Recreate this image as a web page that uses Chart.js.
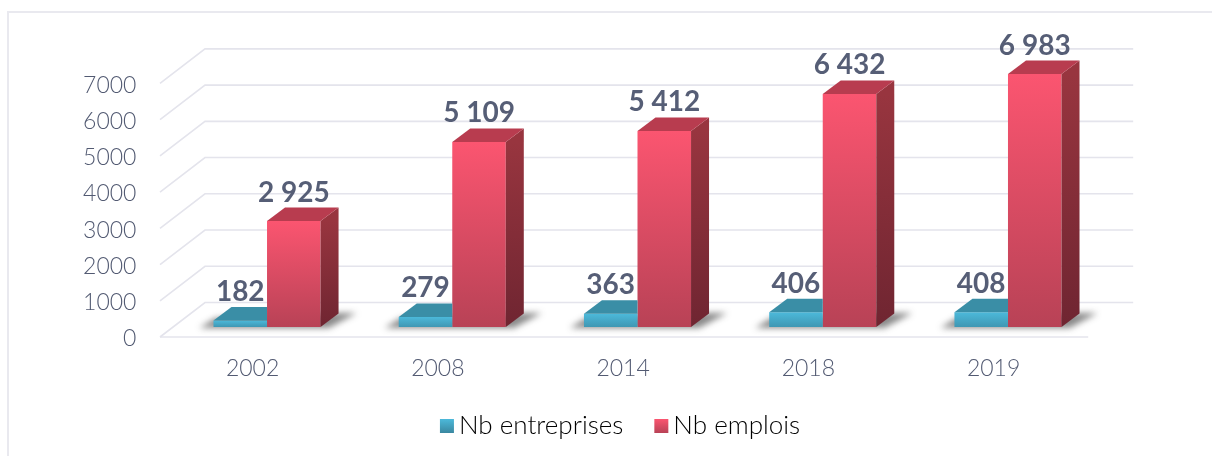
<!DOCTYPE html>
<html>
<head>
<meta charset="utf-8">
<style>
    html, body { margin: 0; padding: 0; background: #fff; overflow: hidden; }
    #wrap { position: relative; width: 1212px; height: 456px; }
    #frame { position: absolute; left: 7px; top: 11px; right: 0; bottom: 0; border-top: 2px solid #e9e9ef; border-left: 2px solid #e9e9ef; }
    #chart { position: absolute; left: 0; top: 0; }
</style>
</head>
<body>
<div id="wrap">
    <div id="frame"></div>
    <canvas id="chart" width="1212" height="456"></canvas>
</div>
<script src="https://cdn.jsdelivr.net/npm/chart.js@4"></script>
<script>
const years = ['2002', '2008', '2014', '2018', '2019'];
const nbEntreprises = [182, 279, 363, 406, 408];
const nbEmplois = [2925, 5109, 5412, 6432, 6983];
const yTicks = [0, 1000, 2000, 3000, 4000, 5000, 6000, 7000];
const yMax = 7700;

const textColor = '#525a72';
const labelColor = '#565e76';
const gridColor = '#e4e4ec';
const fontName = 'Lato';

// fake 3D: the wall sits behind the bars, the floor line in front of them
const frontDx = -14.4, frontDy = 10;
const wallDx = 45, wallDy = -34.5;
const barDx = 18, barDy = -13.5;

function faceGradient(chart, value, top, bottom) {
    const y = chart.scales.y;
    const g = chart.ctx.createLinearGradient(0, y.getPixelForValue(value), 0, y.getPixelForValue(0));
    g.addColorStop(0, top);
    g.addColorStop(1, bottom);
    return g;
}

function polygon(ctx, pts, fill) {
    ctx.beginPath();
    pts.forEach((p, i) => i ? ctx.lineTo(p[0], p[1]) : ctx.moveTo(p[0], p[1]));
    ctx.closePath();
    ctx.fillStyle = fill;
    ctx.fill();
}

const chart3d = {
    id: 'chart3d',
    beforeDatasetsDraw(chart) {
        const ctx = chart.ctx, area = chart.chartArea, y = chart.scales.y;
        const x0 = area.left + frontDx;
        const floorRight = area.right + frontDx + 2;

        ctx.save();
        ctx.strokeStyle = gridColor;
        ctx.lineWidth = 1.6;
        y.ticks.forEach(t => {
            const py = y.getPixelForValue(t.value) + frontDy;
            ctx.beginPath();
            ctx.moveTo(x0, py);
            ctx.lineTo(x0 + wallDx, py + wallDy);
            ctx.lineTo(floorRight + wallDx, py + wallDy);
            ctx.stroke();
        });
        const floorY = y.getPixelForValue(0) + frontDy;
        ctx.beginPath();
        ctx.moveTo(x0, floorY);
        ctx.lineTo(floorRight, floorY);
        ctx.stroke();

        // soft shadow on the floor behind each pair of bars
        const blue = chart.getDatasetMeta(0).data;
        const red = chart.getDatasetMeta(1).data;
        ctx.filter = 'blur(3px)';
        blue.forEach((b, i) => {
            const left = b.x - b.width / 2;
            const right = red[i].x + red[i].width / 2;
            const base = b.base;
            polygon(ctx, [
                [left - 14, base + 1],
                [left + 2, base - 9],
                [right + 18, base - 14],
                [right + 36, base - 14],
                [right + 8, base + 1]
            ], 'rgba(40,40,40,0.55)');
        });
        ctx.restore();
    },
    afterDatasetDraw(chart, args) {
        const ctx = chart.ctx;
        const values = chart.data.datasets[args.index].data;
        args.meta.data.forEach((bar, i) => {
            const left = bar.x - bar.width / 2;
            const right = bar.x + bar.width / 2;
            if (args.index === 0) {
                // red bar stands in front of the blue one, only the top shows
                polygon(ctx, [
                    [left, bar.y], [left + barDx, bar.y + barDy],
                    [right, bar.y + barDy], [right, bar.y]
                ], '#3a8ea6');
            } else {
                polygon(ctx, [
                    [right, bar.y], [right + barDx, bar.y + barDy],
                    [right + barDx, bar.base + barDy], [right, bar.base]
                ], faceGradient(chart, values[i], '#98353f', '#6f2531'));
                polygon(ctx, [
                    [left, bar.y], [left + barDx, bar.y + barDy],
                    [right + barDx, bar.y + barDy], [right, bar.y]
                ], '#b83c4f');
            }
        });
    },
    afterDatasetsDraw(chart) {
        const ctx = chart.ctx;
        ctx.save();
        ctx.font = 'bold 28px ' + fontName;
        ctx.fillStyle = labelColor;
        ctx.textAlign = 'center';
        ctx.textBaseline = 'middle';
        chart.data.datasets.forEach((ds, d) => {
            chart.getDatasetMeta(d).data.forEach((bar, i) => {
                const text = String(ds.data[i]).replace(/\B(?=(\d{3})+$)/g, ' ');
                ctx.fillText(text, bar.x, bar.y - 28.5);
            });
        });
        ctx.restore();
    },
    afterDraw(chart) {
        // legend boxes: the built-in gap to the text is too wide, so the library box stays hidden
        const ctx = chart.ctx;
        const boxes = chart.legend.legendHitBoxes;
        const colors = [['#4cb9da', '#3a87a0'], ['#fb5570', '#b84256']];
        boxes.forEach((hit, i) => {
            const top = hit.top + hit.height / 2 - 7;
            const g = ctx.createLinearGradient(0, top, 0, top + 14);
            g.addColorStop(0, colors[i][0]);
            g.addColorStop(1, colors[i][1]);
            ctx.fillStyle = g;
            ctx.fillRect(hit.left, top, 14, 14);
        });
    }
};

new Chart(document.getElementById('chart'), {
    type: 'bar',
    data: {
        labels: years,
        datasets: [
            {
                label: 'Nb entreprises',
                data: nbEntreprises,
                backgroundColor: ctx => faceGradient(ctx.chart, ctx.raw || 0, '#4cb9da', '#3f97b3')
            },
            {
                label: 'Nb emplois',
                data: nbEmplois,
                backgroundColor: ctx => faceGradient(ctx.chart, ctx.raw || 0, '#fb5570', '#b84256')
            }
        ]
    },
    options: {
        responsive: false,
        animation: false,
        layout: { padding: { left: 28, top: 48, bottom: 7 } },
        datasets: { bar: { barPercentage: 1, categoryPercentage: 0.578 } },
        plugins: {
            tooltip: { enabled: false },
            legend: {
                position: 'bottom',
                labels: {
                    boxWidth: 6,
                    boxHeight: 14,
                    padding: 31,
                    color: textColor,
                    font: { family: fontName, size: 26, weight: '300' },
                    generateLabels: () => [
                        { text: 'Nb entreprises', fillStyle: 'transparent', strokeStyle: 'transparent', lineWidth: 0, datasetIndex: 0 },
                        { text: 'Nb emplois', fillStyle: 'transparent', strokeStyle: 'transparent', lineWidth: 0, datasetIndex: 1 }
                    ]
                }
            }
        },
        scales: {
            x: {
                grid: { display: false },
                border: { display: false },
                ticks: {
                    color: textColor,
                    font: { family: fontName, size: 23, weight: '300' },
                    maxRotation: 0,
                    labelOffset: frontDx,
                    padding: 20
                },
                afterFit: scale => { scale.height = 55; }
            },
            y: {
                min: 0,
                max: yMax,
                grid: { display: false },
                border: { display: false },
                afterBuildTicks: scale => { scale.ticks = yTicks.map(v => ({ value: v })); },
                ticks: {
                    color: textColor,
                    font: { family: fontName, size: 23, weight: '300' },
                    labelOffset: frontDy + 2,
                    padding: 30,
                    callback: v => String(v)
                },
                afterFit: scale => { scale.width = 146.4; }
            },
            // empty axis, only keeps the plot clear of the right side
            spacer: {
                position: 'right',
                grid: { display: false },
                border: { display: false },
                ticks: { display: false },
                afterFit: scale => { scale.width = 111.4; }
            }
        }
    },
    plugins: [chart3d]
});
</script>
</body>
</html>
